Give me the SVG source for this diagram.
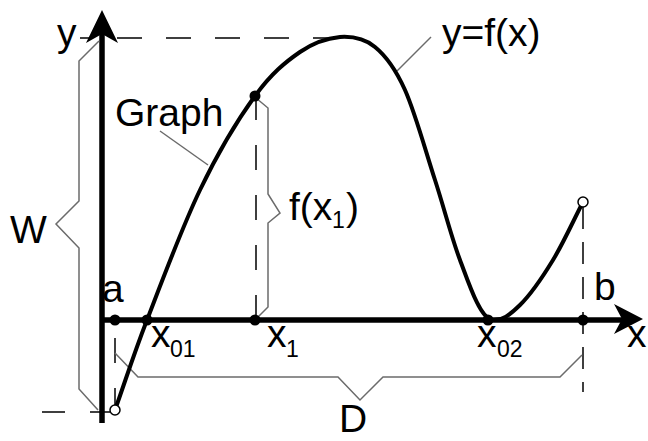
<svg xmlns="http://www.w3.org/2000/svg" width="648" height="441" viewBox="0 0 648 441">
<style>
.t{font-family:"Liberation Sans",Arial,sans-serif;font-size:39px;fill:#000}
.s{font-family:"Liberation Sans",Arial,sans-serif;font-size:23px;fill:#000}
.g{fill:none;stroke:#6b6b6b;stroke-width:1.5}
.d{fill:none;stroke:#000;stroke-width:1.5}
.ax{stroke:#000;stroke-width:5.5;fill:none}
</style>
<rect width="648" height="441" fill="#fff"/>
<g id="guides">
<line class="d" x1="80" y1="38" x2="340" y2="38" stroke-dasharray="25 24" stroke-dashoffset="12"/>
<line class="d" x1="256" y1="320" x2="256" y2="98" stroke-dasharray="25 25"/>
<line class="d" x1="115" y1="338" x2="115" y2="405" stroke-dasharray="25 25"/>
<line class="d" x1="583" y1="207" x2="583" y2="392" stroke-dasharray="22 13"/>
<line class="d" x1="42" y1="412" x2="110" y2="412" stroke-dasharray="23 25"/>
</g>
<g id="axes">
<line class="ax" x1="102" y1="30" x2="102" y2="423"/>
<polygon points="102,10 118,43 102,34 86,43" fill="#000"/>
<line class="ax" x1="100" y1="320" x2="625" y2="320"/>
<polygon points="643,319 614,304 622,319 614,334" fill="#000"/>
</g>
<g id="connectors">
<path class="g" d="M99,41 L79,61 L79,201 L56,224 L79,248 L79,389 L98,410"/>
<path class="g" d="M256,98 L268,108 L268,194 L280,213 L268,223 L268,307 L257,318"/>
<path class="g" d="M115,353 L138,377 L338,377 L360,400 L383,377 L560,377 L582,355"/>
<line class="g" x1="160" y1="131" x2="208" y2="165"/>
<line class="g" x1="397" y1="71" x2="431" y2="37"/>
</g>
<g id="curve">
<path d="M115,410 C125.7,380 132.8,356.7 147,320 C161.2,283.3 182,227.3 200,190 C218,152.7 238.3,119 255,96 C271.7,73 285.8,61.8 300,52 C314.2,42.2 327.5,38.2 340,37 C352.5,36.2 364.2,38.2 375,47 C385.8,55.8 395,67.8 405,90 C415,112.2 425.8,151.7 435,180 C444.2,208.3 451.2,236.7 460,260 C468.8,283.3 480,318 492,320 C502,321 509.8,315 520,305 C530.2,295 542.5,277.2 553,260 C563.5,242.8 573,221.3 583,202" fill="none" stroke="#000" stroke-width="4"/>
</g>
<g id="points">
<circle cx="115" cy="320" r="5.5" fill="#000"/>
<circle cx="147" cy="320" r="5.5" fill="#000"/>
<circle cx="255" cy="320" r="5.5" fill="#000"/>
<circle cx="488" cy="320" r="5.5" fill="#000"/>
<circle cx="583" cy="320" r="5.5" fill="#000"/>
<circle cx="255" cy="96" r="5.5" fill="#000"/>
<circle cx="115" cy="410" r="5" fill="#fff" stroke="#000" stroke-width="1.5"/>
<circle cx="583" cy="202" r="5" fill="#fff" stroke="#000" stroke-width="1.5"/>
</g>
<g id="labels">
<text class="t" x="57" y="46">y</text>
<text class="t" x="115" y="126">Graph</text>
<text class="t" x="442" y="46">y=f(x)</text>
<text class="t" x="10" y="243">W</text>
<text class="t" x="102" y="302">a</text>
<text class="t" x="594" y="300">b</text>
<text class="t" x="627" y="347">x</text>
<text class="t" x="339" y="432">D</text>
<text class="t" x="151" y="347">x</text><text class="s" x="170" y="357">01</text>
<text class="t" x="267" y="347">x</text><text class="s" x="286" y="357">1</text>
<text class="t" x="477" y="347">x</text><text class="s" x="497" y="357">02</text>
<text class="t" x="289" y="220">f(x</text><text class="s" x="332" y="228">1</text><text class="t" x="346" y="220">)</text>
</g>
</svg>
